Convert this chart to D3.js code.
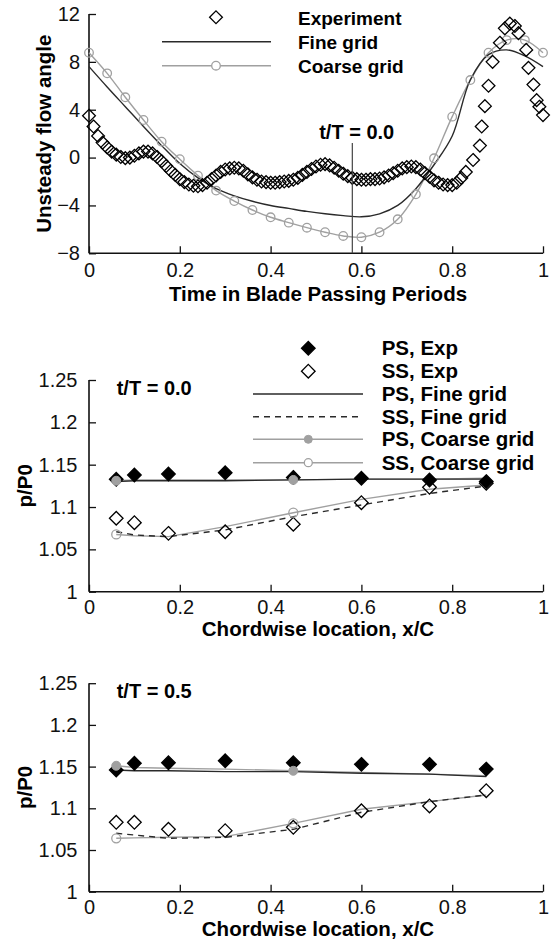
<!DOCTYPE html>
<html><head><meta charset="utf-8">
<script src="https://cdn.jsdelivr.net/npm/d3@7"></script>
<style>
body{margin:0;background:#fff;}
svg{display:block;font-family:"Liberation Sans",Arial,Helvetica,sans-serif;}
</style></head><body>
<svg id="c" width="553" height="946"></svg>
<script>
// ---------- DATA ----------
const angleTicks = [-8,-4,0,4,8,12];
const timeTicks = [0,0.2,0.4,0.6,0.8,1];
const expTime = [0,0.01,0.02,0.03,0.04,0.05,0.06,0.07,0.08,0.09,0.10,0.11,0.12,0.13,0.14,0.15,0.16,0.17,0.18,0.19,0.20,0.21,0.22,0.23,0.24,0.25,0.26,0.27,0.28,0.29,0.30,0.31,0.32,0.33,0.34,0.35,0.36,0.37,0.38,0.39,0.40,0.41,0.42,0.43,0.44,0.45,0.46,0.47,0.48,0.49,0.50,0.51,0.52,0.53,0.54,0.55,0.56,0.57,0.58,0.59,0.60,0.61,0.62,0.63,0.64,0.65,0.66,0.67,0.68,0.69,0.70,0.71,0.72,0.73,0.74,0.75,0.76,0.77,0.78,0.79,0.80,0.81,0.82,0.83,0.846,0.861,0.865,0.872,0.88,0.889,0.905,0.916,0.927,0.938,0.946,0.963,0.968,0.979,0.986,0.992,1.0];
const expAngle = [3.5,2.6,1.8,1.25,0.85,0.5,0.25,0.05,-0.05,0.0,0.15,0.35,0.5,0.5,0.35,0.05,-0.3,-0.7,-1.1,-1.45,-1.8,-2.05,-2.25,-2.35,-2.4,-2.3,-2.1,-1.8,-1.5,-1.2,-1.0,-0.9,-0.85,-0.9,-1.1,-1.4,-1.65,-1.85,-2.0,-2.05,-2.1,-2.1,-2.05,-2.0,-1.95,-1.85,-1.7,-1.45,-1.2,-0.95,-0.75,-0.6,-0.55,-0.65,-0.85,-1.1,-1.35,-1.55,-1.7,-1.8,-1.85,-1.85,-1.8,-1.8,-1.75,-1.65,-1.5,-1.3,-1.1,-0.9,-0.8,-0.75,-0.8,-1.0,-1.3,-1.6,-1.9,-2.1,-2.25,-2.3,-2.3,-2.1,-1.7,-1.2,-0.2,1.0,2.6,4.3,6.0,8.0,9.6,10.8,11.2,11.0,10.4,9.0,7.5,6.1,4.8,4.25,3.55];
const cfdTime = [0,0.04,0.08,0.12,0.16,0.20,0.24,0.28,0.32,0.36,0.40,0.44,0.48,0.52,0.56,0.60,0.64,0.68,0.72,0.76,0.80,0.84,0.88,0.92,0.96,1.0];
const fineAngle = [7.6,5.9,4.25,2.6,1.0,-0.5,-1.7,-2.6,-3.2,-3.65,-4.0,-4.25,-4.5,-4.7,-4.85,-4.95,-4.7,-4.0,-2.6,-0.6,1.8,6.5,8.6,9.0,8.5,7.6];
const coarseAngle = [8.76,7.04,5.04,3.14,1.33,-0.14,-1.51,-2.76,-3.63,-4.38,-4.99,-5.44,-5.86,-6.24,-6.55,-6.66,-6.24,-5.16,-3.07,-0.06,3.42,6.48,8.76,9.82,9.82,8.76];
const markTime = 0.58;

const pTicks = [1,1.05,1.1,1.15,1.2,1.25];
const xcTicks = [0,0.2,0.4,0.6,0.8,1];
const chord = [0.06,0.1,0.175,0.3,0.45,0.6,0.75,0.875];
// t/T = 0.0
const ps0Exp = [1.1327,1.1378,1.139,1.1405,1.135,1.134,1.132,1.130];
const ss0Exp = [1.0867,1.0815,1.0689,1.0708,1.0797,1.1051,1.1233,1.128];
const ps0Fine = [1.130,1.131,1.131,1.131,1.132,1.133,1.133,1.133];
const ss0Fine = [1.0708,1.067,1.065,1.073,1.0886,1.1024,1.116,1.1248];
const ps0Coarse = [1.131,1.132,1.132,1.132,1.132,1.133,1.133,1.134];
const ss0Coarse = [1.0676,1.066,1.065,1.0768,1.0933,1.109,1.121,1.126];
// t/T = 0.5
const ps5Exp = [1.146,1.154,1.1547,1.157,1.1547,1.1527,1.1527,1.147];
const ss5Exp = [1.0832,1.0832,1.0748,1.0732,1.0772,1.0971,1.1028,1.1211];
const ps5Fine = [1.146,1.145,1.145,1.144,1.144,1.142,1.141,1.138];
const ss5Fine = [1.070,1.068,1.064,1.0652,1.0748,1.0952,1.108,1.116];
const ps5Coarse = [1.151,1.149,1.148,1.147,1.145,1.143,1.141,1.139];
const ss5Coarse = [1.064,1.0645,1.0652,1.066,1.082,1.0988,1.108,1.116];

const topLegend = ["Experiment","Fine grid","Coarse grid"];
const pLegend = ["PS, Exp","SS, Exp","PS, Fine grid","SS, Fine grid","PS, Coarse grid","SS, Coarse grid"];

// ---------- DRAW ----------
const svg = d3.select("#c");
const DARK = "#2a2a2a", GRAY = "#a0a0a0";
const X0 = 89, X1 = 543;

function axes(g, x, y, xt, xminor, yt, yminor, xfmt, yfmt, yPad, xPad) {
  const ya = g.append("g").attr("transform",`translate(${X0},0)`);
  ya.call(d3.axisLeft(y).tickValues(yminor).tickSize(-3.5).tickFormat(""));
  ya.call(d3.axisLeft(y).tickValues(yt).tickSize(-7).tickPadding(yPad).tickFormat(yfmt));
  const [yb, ytp] = y.range();
  const xa = g.append("g").attr("transform",`translate(0,${yb})`);
  xa.call(d3.axisBottom(x).tickValues(xminor).tickSize(-4).tickFormat(""));
  xa.call(d3.axisBottom(x).tickValues(xt).tickSize(-7).tickPadding(xPad).tickFormat(xfmt));
  g.selectAll(".domain").remove();
  g.selectAll(".tick line").attr("stroke","#111").attr("stroke-width",1.3);
  g.selectAll(".tick text").attr("font-size",20).attr("fill","#111").attr("font-family","Liberation Sans, Arial, sans-serif");
  g.append("line").attr("x1",X0).attr("x2",X0).attr("y1",ytp).attr("y2",yb).attr("stroke","#111").attr("stroke-width",1.6);
  g.append("line").attr("x1",X0).attr("x2",X1).attr("y1",yb).attr("y2",yb).attr("stroke","#111").attr("stroke-width",1.6);
}
function fmtNum(d){ return d===0?"0":d===1?"1":String(d); }
function diamond(g, cx, cy, r, fill){
  g.append("path").attr("d",`M${cx},${cy-r}L${cx+r},${cy}L${cx},${cy+r}L${cx-r},${cy}Z`)
   .attr("fill",fill).attr("stroke","#000").attr("stroke-width",1.3);
}

// ===== Top chart =====
{
  const g = svg.append("g");
  const x = d3.scaleLinear().domain([0,1]).range([X0,X1]);
  const y = d3.scaleLinear().domain([-8,12]).range([253.3,14]);
  const yminor = d3.range(-8,12.01,1).filter(v=>!angleTicks.includes(v));
  const xminor = d3.range(0,1.001,0.05).map(v=>+v.toFixed(2));
  axes(g,x,y,timeTicks,xminor,angleTicks,yminor,fmtNum,d3.format("d"),9,9.5);

  const line = d3.line().x((d,i)=>x(cfdTime[i])).y(d=>y(d)).curve(d3.curveCatmullRom);
  g.append("path").attr("d",line(coarseAngle)).attr("fill","none").attr("stroke",GRAY).attr("stroke-width",1.4);
  g.append("path").attr("d",line(fineAngle)).attr("fill","none").attr("stroke",DARK).attr("stroke-width",1.4);
  coarseAngle.forEach((v,i)=>g.append("circle").attr("cx",x(cfdTime[i])).attr("cy",y(v)).attr("r",4.3)
     .attr("fill","none").attr("stroke",GRAY).attr("stroke-width",1.3));
  expAngle.forEach((v,i)=>diamond(g,x(expTime[i]),y(v),6.4,"none"));

  // marker line
  g.append("line").attr("x1",x(markTime)).attr("x2",x(markTime)).attr("y1",143).attr("y2",253.3)
    .attr("stroke","#444").attr("stroke-width",1.2);
  g.append("text").attr("x",356.7).attr("y",138.5).attr("text-anchor","middle")
    .attr("font-weight","bold").attr("font-size",20).text("t/T = 0.0");

  // legend
  const ly = [17.3,41.7,65.7];
  diamond(g,216,ly[0],6.4,"none");
  g.append("line").attr("x1",162).attr("x2",271).attr("y1",ly[1]).attr("y2",ly[1]).attr("stroke",DARK).attr("stroke-width",1.4);
  g.append("line").attr("x1",162).attr("x2",271).attr("y1",ly[2]).attr("y2",ly[2]).attr("stroke",GRAY).attr("stroke-width",1.4);
  g.append("circle").attr("cx",216).attr("cy",ly[2]).attr("r",4.3).attr("fill","#fff").attr("stroke",GRAY).attr("stroke-width",1.3);
  topLegend.forEach((t,i)=>g.append("text").attr("x",298).attr("y",ly[i]+1).attr("dy","0.35em")
     .attr("font-weight","bold").attr("font-size",19).text(t));

  g.append("text").attr("transform",`translate(44,${(14+253.3)/2}) rotate(-90)`).attr("text-anchor","middle")
    .attr("dy","0.35em").attr("font-weight","bold").attr("font-size",20.5).text("Unsteady flow angle");
  g.append("text").attr("x",(X0+X1)/2+2).attr("y",301).attr("text-anchor","middle")
    .attr("font-weight","bold").attr("font-size",20.5).text("Time in Blade Passing Periods");
}

// ===== pressure charts =====
function pchart(yTop, yBot, label, psE, ssE, psF, ssF, psC, ssC, withLegend) {
  const g = svg.append("g");
  const x = d3.scaleLinear().domain([0,1]).range([X0,X1]);
  const y = d3.scaleLinear().domain([1,1.25]).range([yBot,yTop]);
  const yminor = d3.range(1,1.2501,0.01).map(v=>+v.toFixed(2)).filter(v=>!pTicks.some(t=>Math.abs(t-v)<1e-6));
  const xminor = d3.range(0,1.001,0.05).map(v=>+v.toFixed(2));
  axes(g,x,y,xcTicks,xminor,pTicks,yminor,fmtNum,d=>d===1?"1":String(+d.toFixed(2)),11.5,8);

  const line = arr => d3.line().x((d,i)=>x(chord[i])).y(d=>y(d))(arr);
  g.append("path").attr("d",line(psC)).attr("fill","none").attr("stroke",GRAY).attr("stroke-width",1.4);
  g.append("path").attr("d",line(ssC)).attr("fill","none").attr("stroke",GRAY).attr("stroke-width",1.4);
  g.append("path").attr("d",line(psF)).attr("fill","none").attr("stroke",DARK).attr("stroke-width",1.4);
  g.append("path").attr("d",line(ssF)).attr("fill","none").attr("stroke",DARK).attr("stroke-width",1.4).attr("stroke-dasharray","6,5");
  ssE.forEach((v,i)=>diamond(g,x(chord[i]),y(v),6.8,"none"));
  psE.forEach((v,i)=>diamond(g,x(chord[i]),y(v),6.8,"#000"));
  [0,4].forEach(i=>{
    g.append("circle").attr("cx",x(chord[i])).attr("cy",y(psC[i])).attr("r",4.5).attr("fill",GRAY).attr("stroke",GRAY);
    g.append("circle").attr("cx",x(chord[i])).attr("cy",y(ssC[i])).attr("r",4.5).attr("fill","none").attr("stroke",GRAY).attr("stroke-width",1.3);
  });

  g.append("text").attr("x",116.7).attr("y",yTop+15).attr("font-weight","bold").attr("font-size",20).text(label);
  g.append("text").attr("transform",`translate(25,${(yTop+yBot)/2}) rotate(-90)`).attr("text-anchor","middle")
    .attr("dy","0.35em").attr("font-weight","bold").attr("font-size",20.5).text("p/P0");
  g.append("text").attr("x",(X0+X1)/2+2).attr("y",yBot+44.5).attr("text-anchor","middle")
    .attr("font-weight","bold").attr("font-size",20.5).text("Chordwise location, x/C");

  if (withLegend) {
    const ly = [348.3,371.2,394,416.8,439.3,462.7];
    diamond(g,308.3,ly[0],6.8,"#000");
    diamond(g,308.3,ly[1],6.8,"none");
    g.append("line").attr("x1",253).attr("x2",363).attr("y1",ly[2]).attr("y2",ly[2]).attr("stroke",DARK).attr("stroke-width",1.4);
    g.append("line").attr("x1",253).attr("x2",363).attr("y1",ly[3]).attr("y2",ly[3]).attr("stroke",DARK).attr("stroke-width",1.4).attr("stroke-dasharray","6,5");
    g.append("line").attr("x1",253).attr("x2",363).attr("y1",ly[4]).attr("y2",ly[4]).attr("stroke",GRAY).attr("stroke-width",1.4);
    g.append("line").attr("x1",253).attr("x2",363).attr("y1",ly[5]).attr("y2",ly[5]).attr("stroke",GRAY).attr("stroke-width",1.4);
    g.append("circle").attr("cx",308.3).attr("cy",ly[4]).attr("r",4).attr("fill",GRAY).attr("stroke",GRAY);
    g.append("circle").attr("cx",308.3).attr("cy",ly[5]).attr("r",4).attr("fill","#fff").attr("stroke",GRAY).attr("stroke-width",1.3);
    pLegend.forEach((t,i)=>g.append("text").attr("x",381.7).attr("y",ly[i]).attr("dy","0.35em")
      .attr("font-weight","bold").attr("font-size",20.5).text(t));
  }
}
pchart(380,591.7,"t/T = 0.0",ps0Exp,ss0Exp,ps0Fine,ss0Fine,ps0Coarse,ss0Coarse,true);
pchart(683.2,891.7,"t/T = 0.5",ps5Exp,ss5Exp,ps5Fine,ss5Fine,ps5Coarse,ss5Coarse,false);
</script>
</body></html>
